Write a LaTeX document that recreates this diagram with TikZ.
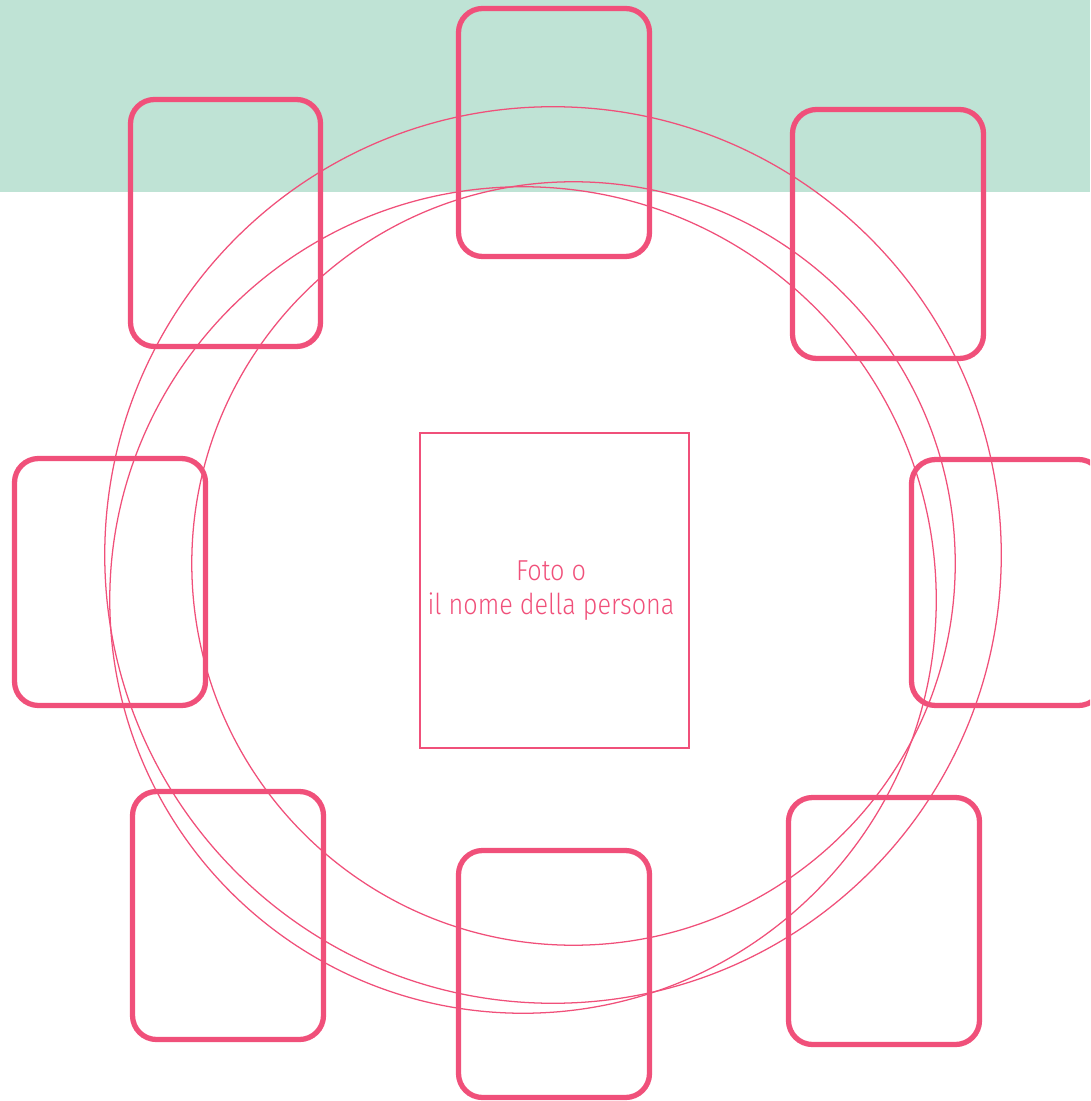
\documentclass[tikz,border=0pt]{standalone}
\usepackage{fontspec}
\setmainfont[FakeStretch=0.875]{Fira Sans Light}
\definecolor{pinkline}{HTML}{F0507A}
\definecolor{mint}{HTML}{BFE3D5}
\tikzset{
  seat/.style={draw=pinkline, line width=1.5pt, rounded corners=0.24cm},
  ring/.style={draw=pinkline, line width=0.36pt},
  photo/.style={draw=pinkline, line width=0.7pt},
}
\begin{document}
\begin{tikzpicture}[x=0.01cm,y=-0.01cm]
\clip (0,0) rectangle (1090,1101);
\useasboundingbox (0,0) rectangle (1090,1101);
\fill[mint] (0,0) rectangle (1090,192);
% rings
\draw[ring] (553,555) circle[radius=4.48cm];
\draw[ring] (523,600) circle[radius=4.13cm];
\draw[ring] (573.5,563.5) circle[radius=3.815cm];
% central photo box
\node[photo, minimum width=2.69cm, minimum height=3.15cm, inner sep=0pt] (photo) at (554.5,590.5) {};
\node[text=pinkline, font=\fontsize{8.2pt}{9.7pt}\selectfont, align=center] (lbl) at (551,591) {Foto o\\il nome della persona};
% seats
\draw[seat] (458.5,8.5) rectangle (649.5,256.5);
\draw[seat] (130.5,99.5) rectangle (320.5,346.5);
\draw[seat] (792.5,109.5) rectangle (983.5,358.5);
\draw[seat] (14.5,458.5) rectangle (205.5,705.5);
\draw[seat] (911.5,459.5) rectangle (1102.5,705.5);
\draw[seat] (132.5,791.5) rectangle (323.5,1039.5);
\draw[seat] (458.5,850.5) rectangle (649.5,1097.5);
\draw[seat] (788.5,797.5) rectangle (979.5,1044.5);
\end{tikzpicture}
\end{document}
